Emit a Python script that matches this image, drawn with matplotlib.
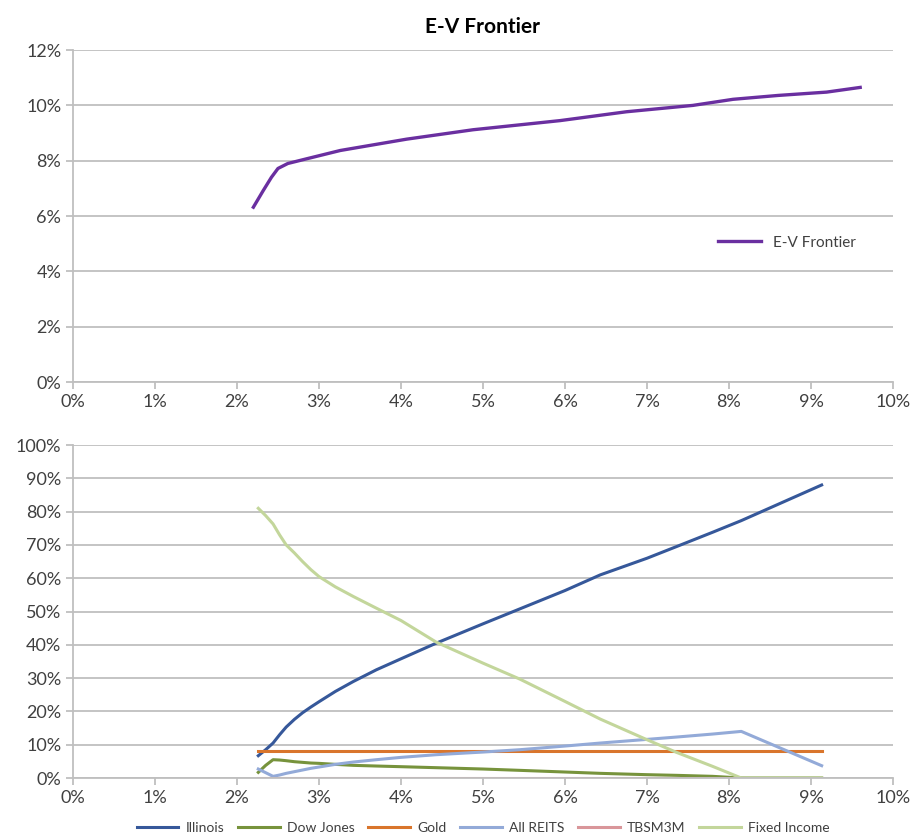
import matplotlib.pyplot as plt
from matplotlib.ticker import FuncFormatter, MultipleLocator
import numpy as np

plt.rcParams['font.family'] = ['Lato', 'DejaVu Sans']

# E-V frontier: risk (%) vs expected return (%)
frontier_risk = [2.20, 2.32, 2.42, 2.50, 2.62, 2.85, 3.26, 4.07, 4.88, 5.94, 6.75, 7.56, 8.05, 8.60, 9.19, 9.60]
frontier_ret = [6.32, 6.92, 7.40, 7.72, 7.90, 8.07, 8.37, 8.78, 9.12, 9.45, 9.77, 10.00, 10.22, 10.36, 10.48, 10.65]

# portfolio weights (%) along the frontier
risk = [2.26, 2.35, 2.44, 2.52, 2.60, 2.70, 2.80, 2.90, 3.00, 3.20, 3.42, 3.70, 4.00, 4.43, 5.00,
        5.45, 6.00, 6.43, 7.00, 7.36, 7.80, 8.15, 9.13]
illinois = [6.7, 8.5, 10.5, 13.0, 15.3, 17.6, 19.6, 21.3, 22.9, 26.0, 29.0, 32.5, 35.8, 40.5, 46.3,
            50.8, 56.3, 61.0, 66.0, 69.5, 73.8, 77.3, 88.0]
dow_jones = [1.7, 3.8, 5.5, 5.4, 5.2, 4.9, 4.7, 4.5, 4.4, 4.1, 3.8, 3.6, 3.4, 3.1, 2.7,
             2.3, 1.8, 1.4, 1.0, 0.8, 0.5, 0.0, 0.0]
gold = [8.0] * 23
all_reits = [2.7, 1.6, 0.5, 0.9, 1.4, 1.9, 2.4, 2.9, 3.3, 4.1, 4.8, 5.5, 6.2, 7.0, 7.8,
             8.5, 9.6, 10.5, 11.6, 12.3, 13.2, 14.0, 3.7]
tbsm3m = [0.0] * 22 + [np.nan]
fixed_income = [81.0, 78.8, 76.3, 73.0, 70.0, 67.6, 65.0, 62.6, 60.5, 57.4, 54.5, 51.0, 47.3, 40.8, 34.5,
                29.7, 23.0, 17.7, 11.5, 7.7, 3.5, 0.0, 0.0]

series = [
    ("Illinois", illinois, "#36589a"),
    ("Dow Jones", dow_jones, "#77933c"),
    ("Gold", gold, "#d9752c"),
    ("All REITS", all_reits, "#93aad8"),
    ("TBSM3M", tbsm3m, "#d9969a"),
    ("Fixed Income", fixed_income, "#c3d69b"),
]

txt = "#404040"
grid = "#bfbfbf"
pct = FuncFormatter(lambda v, p: f"{v:.0f}%")

fig = plt.figure(figsize=(9.19, 8.4), dpi=100)
ax1 = fig.add_axes([0.0794, 0.5452, 0.8923, 0.3952])
ax2 = fig.add_axes([0.0794, 0.0738, 0.8923, 0.3964])


def style(ax):
    for s in ["top", "right"]:
        ax.spines[s].set_visible(False)
    for s in ["left", "bottom"]:
        ax.spines[s].set_color(grid)
        ax.spines[s].set_linewidth(1.3)
    ax.tick_params(colors=grid, labelcolor=txt, labelsize=13, length=5, width=1.3)
    ax.yaxis.grid(True, color=grid, linewidth=1.3)
    ax.set_axisbelow(True)
    ax.xaxis.set_major_locator(MultipleLocator(1))
    ax.xaxis.set_major_formatter(pct)
    ax.yaxis.set_major_formatter(pct)
    ax.set_xlim(0, 10)


# top panel: the frontier
ax1.plot(frontier_risk, frontier_ret, color="#6a2fa0", lw=2.4, label="E-V Frontier",
         solid_joinstyle="round")
style(ax1)
ax1.set_ylim(0, 12)
ax1.yaxis.set_major_locator(MultipleLocator(2))
ax1.legend(loc="center left", bbox_to_anchor=(0.77, 0.42), frameon=False,
           fontsize=11, handlelength=2.8, labelcolor=txt)
ax1.set_title("E-V Frontier", fontsize=15, fontweight="bold", color="black", pad=12)

# bottom panel: asset weights
for name, vals, col in series:
    ax2.plot(risk, vals, color=col, lw=2.2, label=name, solid_joinstyle="round")
style(ax2)
ax2.set_ylim(0, 100)
ax2.yaxis.set_major_locator(MultipleLocator(10))
ax2.legend(loc="upper center", bbox_to_anchor=(0.5, -0.095), ncol=6, frameon=False,
           fontsize=10, handlelength=3.0, columnspacing=1.0, handletextpad=0.5,
           labelcolor=txt)

fig.savefig("out.png", dpi=100)
